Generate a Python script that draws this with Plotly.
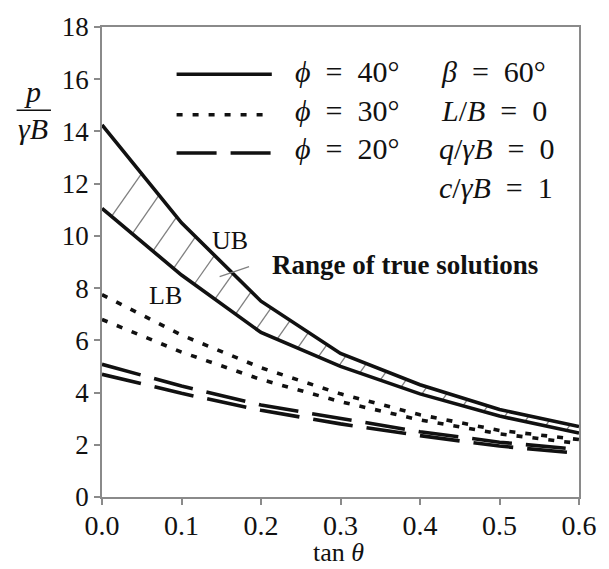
import numpy as np
import plotly.graph_objects as go

# ---------------- data ----------------
tan_theta = [0.0, 0.1, 0.2, 0.3, 0.4, 0.5, 0.6]
ub_phi40 = [14.25, 10.5, 7.5, 5.5, 4.3, 3.35, 2.7]
lb_phi40 = [11.05, 8.5, 6.3, 5.0, 3.95, 3.1, 2.45]
ub_phi30 = [7.75, 6.2, 4.95, 3.95, 3.15, 2.55, 2.2]
lb_phi30 = [6.8, 5.55, 4.5, 3.65, 2.95, 2.42, 2.05]
ub_phi20 = [5.08, 4.25, 3.52, 3.0, 2.5, 2.1, 1.82]
lb_phi20 = [4.7, 3.97, 3.32, 2.8, 2.35, 1.95, 1.67]
x_ticks = [0.0, 0.1, 0.2, 0.3, 0.4, 0.5, 0.6]
x_ticklabels = ["0.0", "0.1", "0.2", "0.3", "0.4", "0.5", "0.6"]
y_ticks = [0, 2, 4, 6, 8, 10, 12, 14, 16, 18]

# ---------------- layout constants ----------------
W, H = 609, 569
ML, MR, MT, MB = 102, 21, 23, 72
PW, PH = W - ML - MR, H - MT - MB
SERIF = "Liberation Serif, Times New Roman, serif"
BLACK = "#111111"
AXIS = "#8a8a8a"
LW = 3.6
DOT = "6px,10px"
DASH = "40px,14px"
SP = "&nbsp;"


def px(x):
    return (x - ML) / PW


def py(y):
    return (H - MB - y) / PH


fig = go.Figure()

# hatch lines of the "range of true solutions" band (derived from UB/LB)
xs_fine = np.linspace(0.0, 0.6, 2401)
ub_f = np.interp(xs_fine, tan_theta, ub_phi40)
xr = 0.6 / PW  # data per pixel in x
yr = 18.0 / PH  # data per pixel in y
slope = np.tan(np.radians(55)) * yr / xr  # data-units slope for 55 deg on screen
hx, hy = [], []
for x0 in np.arange(0.012, 0.59, 0.026):
    y0 = float(np.interp(x0, tan_theta, lb_phi40))
    yline = y0 + (xs_fine - x0) * slope
    mask = (xs_fine >= x0) & (yline >= ub_f)
    if not mask.any():
        continue
    i = int(np.argmax(mask))
    hx += [x0, float(xs_fine[i]), None]
    hy += [y0, float(ub_f[i]), None]
fig.add_trace(go.Scatter(x=hx, y=hy, mode="lines",
                         line=dict(color="#808080", width=1.3),
                         hoverinfo="skip", showlegend=False))

series = [
    (ub_phi40, "solid"), (lb_phi40, "solid"),
    (ub_phi30, DOT), (lb_phi30, DOT),
    (ub_phi20, DASH), (lb_phi20, DASH),
]
for ys, dash in series:
    fig.add_trace(go.Scatter(x=tan_theta, y=ys, mode="lines",
                             line=dict(color=BLACK, width=LW, dash=dash),
                             showlegend=False))

axis_common = dict(
    showline=True, linecolor=AXIS, linewidth=1.5, mirror=True,
    ticks="outside", ticklen=6, tickwidth=1.5, tickcolor=AXIS,
    showgrid=False, zeroline=False,
)
fig.update_xaxes(range=[0, 0.6], tickvals=x_ticks, ticktext=x_ticklabels,
                 ticklabelstandoff=-3,
                 tickfont=dict(family=SERIF, size=28, color=BLACK), **axis_common)
fig.update_yaxes(range=[0, 18], tickvals=y_ticks,
                 tickfont=dict(family=SERIF, size=27, color=BLACK), **axis_common)

shapes = []
annotations = []


def text(s, x, y, size=27, xanchor="left", bold=False):
    if bold:
        s = "<b>" + s + "</b>"
    annotations.append(dict(text=s, x=px(x), y=py(y), xref="paper", yref="paper",
                            xanchor=xanchor, yanchor="middle", showarrow=False,
                            font=dict(family=SERIF, size=size, color=BLACK)))


# y-axis label as a fraction
text("<i>p</i>", 31, 88, size=30, xanchor="center")
shapes.append(dict(type="line", xref="paper", yref="paper",
                   x0=px(15), x1=px(50), y0=py(107), y1=py(107),
                   line=dict(color=BLACK, width=1.6)))
text("<i>γB</i>", 32, 125, size=30, xanchor="center")

# x-axis label
text("tan <i>θ</i>", 343, 553, size=26, xanchor="center")

# legend
for yy, dash in [(70.7, "solid"), (111.5, DOT), (150, DASH)]:
    shapes.append(dict(type="line", xref="paper", yref="paper",
                       x0=px(178), x1=px(275), y0=py(yy), y1=py(yy),
                       line=dict(color=BLACK, width=LW, dash=dash)))
EQ = SP + SP + "=" + SP + SP
text("<i>ϕ</i>" + EQ + "40°", 297, 68, size=30)
text("<i>ϕ</i>" + EQ + "30°", 297, 107, size=30)
text("<i>ϕ</i>" + EQ + "20°", 297, 146, size=30)
text("<i>β</i>" + EQ + "60°", 445, 68, size=30)
text("<i>L</i>/<i>B</i>" + EQ + "0", 445, 107, size=30)
text("<i>q</i>/<i>γB</i>" + EQ + "0", 443, 146, size=30)
text("<i>c</i>/<i>γB</i>" + EQ + "1", 443, 185, size=30)

# curve labels
text("UB", 232, 238, size=26, xanchor="center")
text("LB", 167, 294, size=26, xanchor="center")
text("Range of true solutions", 273, 263, size=27, bold=True)
shapes.append(dict(type="line", xref="x", yref="y",
                   x0=0.148, y0=8.44, x1=0.185, y1=8.82,
                   line=dict(color="#808080", width=1.3)))

fig.update_layout(
    width=W, height=H,
    margin=dict(l=ML, r=MR, t=MT, b=MB),
    paper_bgcolor="white", plot_bgcolor="white",
    shapes=shapes, annotations=annotations,
    showlegend=False,
)
fig.write_html("out.html")
